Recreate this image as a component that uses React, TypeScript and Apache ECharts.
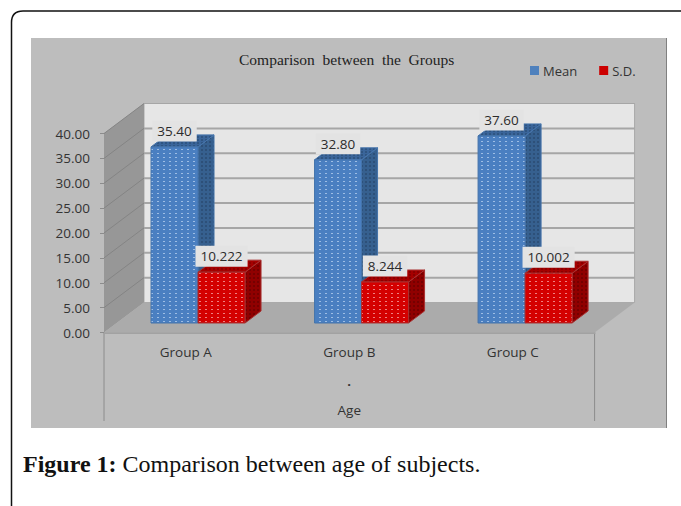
import React, { useEffect, useRef } from "react";
import * as echarts from "echarts";

const categories = ["Group A", "Group B", "Group C"];
const meanValues = [35.4, 32.8, 37.6];
const sdValues = [10.222, 8.244, 10.002];
const axisTicks = [0, 5, 10, 15, 20, 25, 30, 35, 40];

const UI_FONT = '"Open Sans", sans-serif';
const SERIF_FONT = '"Liberation Serif", serif';

// Box frame around the figure, open at the right and bottom of the page.
echarts.graphic.registerShape(
  "figureFrame",
  echarts.graphic.extendPath("M681 11 H23 Q11.5 11 11.5 22.5 V506", {})
);

// Small repeating tile that gives the bar faces their woven look.
function tile(base: string, dot: string, dotW: number, dotH: number, w = 6, h = 4) {
  const canvas = document.createElement("canvas");
  canvas.width = w;
  canvas.height = h;
  const ctx = canvas.getContext("2d")!;
  ctx.fillStyle = base;
  ctx.fillRect(0, 0, w, h);
  ctx.fillStyle = dot;
  ctx.fillRect(1, 1, dotW, dotH);
  return { type: "pattern", image: canvas, repeat: "repeat", imageWidth: w, imageHeight: h };
}

// Offsets of the 3D scene relative to the front plane of the axes.
const WALL_DX = 40;
const WALL_DY = -30;
const BAR_SHIFT_X = 12.25;
const BAR_SHIFT_Y = -9.5;
const BAR_DEPTH_X = 16;
const BAR_DEPTH_Y = -12;
const BAR_BAND_RATIO = 0.2875;

function barSeries(
  name: string,
  values: number[],
  digits: number,
  slot: number,
  colors: { legend: string; front: any; side: any; top: any; edge: string }
) {
  return {
    name,
    type: "custom",
    coordinateSystem: "cartesian2d",
    itemStyle: { color: colors.legend },
    z: 3 + slot,
    silent: true,
    data: values.map((v, i) => [i, v]),
    encode: { x: 0, y: 1 },
    renderItem: (_params: any, api: any) => {
      const i = api.value(0);
      const v = api.value(1);
      const top = api.coord([i, v]);
      const base = api.coord([i, 0]);
      const w = api.size([1, 0])[0] * BAR_BAND_RATIO;
      const x0 = top[0] + BAR_SHIFT_X - w + slot * w;
      const x1 = x0 + w;
      const yT = top[1] + BAR_SHIFT_Y;
      const yB = base[1] + BAR_SHIFT_Y;
      const dx = BAR_DEPTH_X;
      const dy = BAR_DEPTH_Y;
      const edge = { stroke: colors.edge, lineWidth: 1 };
      return {
        type: "group",
        children: [
          {
            type: "polygon",
            shape: { points: [[x1, yT], [x1 + dx, yT + dy], [x1 + dx, yB + dy], [x1, yB]] },
            style: { fill: colors.side, ...edge },
          },
          {
            type: "polygon",
            shape: { points: [[x0, yT], [x0 + dx, yT + dy], [x1 + dx, yT + dy], [x1, yT]] },
            style: { fill: colors.top, ...edge },
          },
          {
            type: "rect",
            shape: { x: x0, y: yT, width: w, height: yB - yT },
            style: { fill: colors.front, ...edge },
          },
          {
            type: "text",
            x: (x0 + x1) / 2,
            y: yT - 16,
            style: {
              text: v.toFixed(digits),
              font: `13.5px ${UI_FONT}`,
              fill: "#2b2b2b",
              align: "center",
              verticalAlign: "middle",
              backgroundColor: "#e3e3e3",
              padding: [4, 5, 3, 5],
            },
          },
        ],
      };
    },
  };
}

const App: React.FC = () => {
  const ref = useRef<HTMLDivElement>(null);

  useEffect(() => {
    document.body.style.margin = "0";
    const chart = echarts.init(ref.current!, undefined, { renderer: "svg" });

    const wallSeries = {
      type: "custom",
      coordinateSystem: "cartesian2d",
      z: 1,
      silent: true,
      data: axisTicks.map((t) => [0, t]),
      encode: { x: 0, y: 1 },
      renderItem: (params: any, api: any) => {
        const cs = params.coordSys;
        const tick = api.value(1);
        const y = api.coord([0, tick])[1];
        const left = cs.x;
        const right = cs.x + cs.width;
        const bottom = cs.y + cs.height;
        const top = cs.y;
        const children: any[] = [];
        if (params.dataIndex === 0) {
          children.push(
            {
              type: "polygon",
              shape: {
                points: [
                  [left + WALL_DX, top + WALL_DY],
                  [right + WALL_DX, top + WALL_DY],
                  [right + WALL_DX, bottom + WALL_DY],
                  [left + WALL_DX, bottom + WALL_DY],
                ],
              },
              style: { fill: "#e6e6e6", stroke: "#a8a8a8", lineWidth: 1 },
            },
            {
              type: "polygon",
              shape: {
                points: [
                  [left, top],
                  [left + WALL_DX, top + WALL_DY],
                  [left + WALL_DX, bottom + WALL_DY],
                  [left, bottom],
                ],
              },
              style: { fill: "#979797" },
            },
            {
              type: "polygon",
              shape: {
                points: [
                  [left, bottom],
                  [left + WALL_DX, bottom + WALL_DY],
                  [right + WALL_DX, bottom + WALL_DY],
                  [right, bottom],
                ],
              },
              style: { fill: "#ababab" },
            }
          );
        }
        if (tick > 0) {
          const isTop = tick === axisTicks[axisTicks.length - 1];
          children.push(
            {
              type: "line",
              shape: { x1: left, y1: y, x2: left + WALL_DX, y2: y + WALL_DY },
              style: { stroke: "#848484", lineWidth: 1 },
            },
            {
              type: "line",
              shape: { x1: left + WALL_DX, y1: y + WALL_DY, x2: right + WALL_DX, y2: y + WALL_DY },
              style: { stroke: "#a6a6a6", lineWidth: isTop ? 1 : 2 },
            }
          );
        }
        return { type: "group", children };
      },
    };

    chart.setOption({
      animation: false,
      backgroundColor: "#ffffff",
      title: {
        text: "Comparison  between  the  Groups",
        left: 239,
        top: 51,
        padding: 0,
        textStyle: { fontFamily: SERIF_FONT, fontSize: 15.5, fontWeight: "normal", color: "#222222" },
      },
      legend: {
        left: 530,
        top: 64,
        padding: 0,
        itemWidth: 9,
        itemHeight: 9,
        itemGap: 22,
        icon: "rect",
        data: ["Mean", "S.D."],
        textStyle: { fontFamily: UI_FONT, fontSize: 13, color: "#333333", padding: [0, 0, 0, -1] },
      },
      grid: { left: 104, top: 133.5, width: 490.6, height: 199 },
      xAxis: {
        type: "category",
        data: categories,
        name: "Age",
        nameLocation: "middle",
        nameGap: 70,
        nameTextStyle: { fontFamily: UI_FONT, fontSize: 13.5, color: "#333333" },
        axisTick: { show: false },
        axisLine: { lineStyle: { color: "#a2a2a2", width: 2 } },
        axisLabel: { margin: 12, fontFamily: UI_FONT, fontSize: 13.5, color: "#333333" },
      },
      yAxis: {
        type: "value",
        min: 0,
        max: 40,
        interval: 5,
        splitLine: { show: false },
        axisLine: { show: true, lineStyle: { color: "#8c8c8c" } },
        axisTick: { show: true, length: 4, lineStyle: { color: "#8c8c8c" } },
        axisLabel: {
          margin: 14,
          fontFamily: UI_FONT,
          fontSize: 13.5,
          color: "#333333",
          formatter: (v: number) => v.toFixed(2),
        },
      },
      graphic: [
        {
          type: "rect",
          z: -10,
          shape: { x: 31, y: 38, width: 636, height: 390 },
          style: { fill: "#bdbdbd" },
        },
        {
          type: "line",
          z: -9,
          shape: { x1: 666.5, y1: 38, x2: 666.5, y2: 428 },
          style: { stroke: "#808080", lineWidth: 1 },
        },
        {
          type: "figureFrame",
          z: -9,
          style: { fill: "none", stroke: "#111111", lineWidth: 1.5 },
        },
        {
          type: "line",
          shape: { x1: 104, y1: 333, x2: 104, y2: 421 },
          style: { stroke: "#8c8c8c", lineWidth: 1 },
        },
        {
          type: "line",
          shape: { x1: 594.6, y1: 333, x2: 594.6, y2: 421 },
          style: { stroke: "#8c8c8c", lineWidth: 1 },
        },
        {
          type: "text",
          x: 349,
          y: 381,
          style: { text: ".", font: `bold 13px ${UI_FONT}`, fill: "#333333", align: "center", verticalAlign: "middle" },
        },
        {
          type: "text",
          x: 23,
          y: 464,
          style: {
            text: "{b|Figure 1:} Comparison between age of subjects.",
            font: `24px ${SERIF_FONT}`,
            fill: "#111111",
            verticalAlign: "middle",
            rich: { b: { font: `bold 24px ${SERIF_FONT}`, fill: "#111111" } },
          },
        },
      ],
      series: [
        wallSeries,
        barSeries("Mean", meanValues, 2, 0, {
          legend: "#4f81bd",
          front: tile("#4a7fc1", "#9dbde4", 2, 1),
          side: tile("#36608f", "#2d5079", 2, 2, 4, 4),
          top: tile("#3a659a", "#2f5582", 2, 2, 4, 3),
          edge: "#4574ab",
        }),
        barSeries("S.D.", sdValues, 3, 1, {
          legend: "#cc0000",
          front: tile("#d40000", "#ee8080", 2, 1),
          side: tile("#900000", "#750000", 2, 2, 4, 4),
          top: tile("#a50000", "#8a0000", 2, 2, 4, 3),
          edge: "#a83232",
        }),
      ],
    });

    return () => chart.dispose();
  }, []);

  return <div ref={ref} style={{ width: 681, height: 506 }} />;
};

export default App;
